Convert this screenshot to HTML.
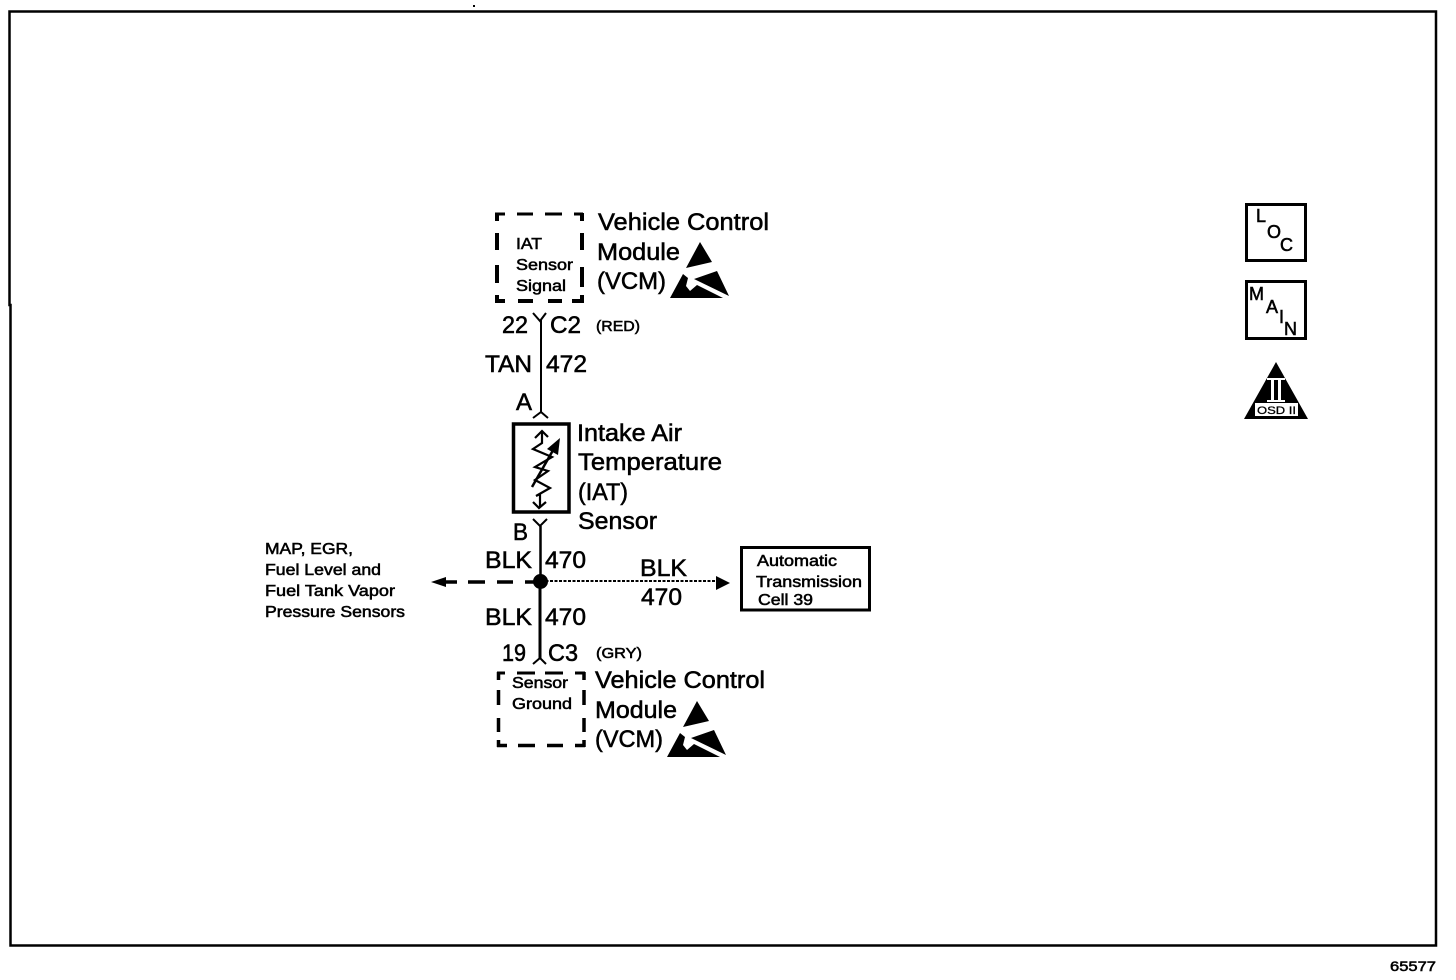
<!DOCTYPE html>
<html><head><meta charset="utf-8"><style>
html,body{margin:0;padding:0;background:#fff}
svg{display:block}
text{font-family:"Liberation Sans",sans-serif;fill:#000;stroke:#000;stroke-width:.55}
</style></head><body>
<svg width="1456" height="980" viewBox="0 0 1456 980" xmlns="http://www.w3.org/2000/svg">
<path d="M473 5h2v2h-2z"/>
<path d="M9.500 11.500H1436V945.500H10.500V305H9.500Z" fill="none" stroke="#000" stroke-width="2.500"/>

<!-- dashed boxes -->
<g fill="none" stroke="#000">
<path d="M495 214H505M517 214H533M545 214H562M574 214H583" stroke-width="3"/>
<path d="M495 301H505M518 301H533M548 301H562M572 301H583" stroke-width="4"/>
<path d="M497 213V221M497 233V250M497 265V283M497 295V303M582 213V221M582 233V250M582 267V287M582 295V303" stroke-width="4"/>
<path d="M497 673H505M517 673H535M545 673H563M575 673H585" stroke-width="3"/>
<path d="M497 745.500H507M518 745.500H535M547 745.500H563M575 745.500H585" stroke-width="3.500"/>
<path d="M498.500 672V680M498.500 690V705M498.500 718V732M498.500 740V747M584 672V680M584 690V705M584 718V732M584 740V747" stroke-width="3.500"/>
</g>
<g font-size="16">
<text x="516" y="249" textLength="26" lengthAdjust="spacingAndGlyphs">IAT</text>
<text x="516" y="270" textLength="57" lengthAdjust="spacingAndGlyphs">Sensor</text>
<text x="516" y="291" textLength="50" lengthAdjust="spacingAndGlyphs">Signal</text>
<text x="512" y="688" textLength="56" lengthAdjust="spacingAndGlyphs">Sensor</text>
<text x="512" y="709" textLength="60" lengthAdjust="spacingAndGlyphs">Ground</text>
</g>

<g font-size="24">
<text x="598" y="230" textLength="171" lengthAdjust="spacingAndGlyphs">Vehicle Control</text>
<text x="597" y="260" textLength="83" lengthAdjust="spacingAndGlyphs">Module</text>
<text x="597" y="289" textLength="69" lengthAdjust="spacingAndGlyphs">(VCM)</text>
<text x="502" y="333" textLength="26" lengthAdjust="spacingAndGlyphs">22</text>
<text x="550" y="333" textLength="31" lengthAdjust="spacingAndGlyphs">C2</text>
<text x="485" y="372" textLength="47" lengthAdjust="spacingAndGlyphs">TAN</text>
<text x="546" y="372" textLength="41" lengthAdjust="spacingAndGlyphs">472</text>
<text x="516" y="410" textLength="16" lengthAdjust="spacingAndGlyphs">A</text>
<text x="577" y="441" textLength="105" lengthAdjust="spacingAndGlyphs">Intake Air</text>
<text x="578" y="470" textLength="144" lengthAdjust="spacingAndGlyphs">Temperature</text>
<text x="578" y="500" textLength="50" lengthAdjust="spacingAndGlyphs">(IAT)</text>
<text x="578" y="529" textLength="79" lengthAdjust="spacingAndGlyphs">Sensor</text>
<text x="513" y="540" textLength="15" lengthAdjust="spacingAndGlyphs">B</text>
<text x="485" y="568" textLength="47" lengthAdjust="spacingAndGlyphs">BLK</text>
<text x="545" y="568" textLength="41" lengthAdjust="spacingAndGlyphs">470</text>
<text x="640" y="576" textLength="47" lengthAdjust="spacingAndGlyphs">BLK</text>
<text x="641" y="605" textLength="41" lengthAdjust="spacingAndGlyphs">470</text>
<text x="485" y="625" textLength="47" lengthAdjust="spacingAndGlyphs">BLK</text>
<text x="545" y="625" textLength="41" lengthAdjust="spacingAndGlyphs">470</text>
<text x="502" y="661" textLength="24" lengthAdjust="spacingAndGlyphs">19</text>
<text x="548" y="661" textLength="30" lengthAdjust="spacingAndGlyphs">C3</text>
<text x="595" y="688" textLength="170" lengthAdjust="spacingAndGlyphs">Vehicle Control</text>
<text x="595" y="718" textLength="82" lengthAdjust="spacingAndGlyphs">Module</text>
<text x="595" y="747" textLength="68" lengthAdjust="spacingAndGlyphs">(VCM)</text>
</g>
<g font-size="15">
<text x="596" y="331" textLength="44" lengthAdjust="spacingAndGlyphs">(RED)</text>
<text x="596" y="658" textLength="46" lengthAdjust="spacingAndGlyphs">(GRY)</text>
</g>
<g font-size="16">
<text x="265" y="554" textLength="88" lengthAdjust="spacingAndGlyphs">MAP, EGR,</text>
<text x="265" y="575" textLength="116" lengthAdjust="spacingAndGlyphs">Fuel Level and</text>
<text x="265" y="596" textLength="130" lengthAdjust="spacingAndGlyphs">Fuel Tank Vapor</text>
<text x="265" y="617" textLength="140" lengthAdjust="spacingAndGlyphs">Pressure Sensors</text>
<text x="757" y="566" textLength="80" lengthAdjust="spacingAndGlyphs">Automatic</text>
<text x="756" y="587" textLength="106" lengthAdjust="spacingAndGlyphs">Transmission</text>
<text x="758" y="605" textLength="55" lengthAdjust="spacingAndGlyphs">Cell 39</text>
</g>

<!-- wires -->
<g fill="none" stroke="#000">
<path d="M541 320V412" stroke-width="2"/>
<path d="M533 313L540 321L546 313" stroke-width="2"/>
<path d="M533 418L541 412L548 418" stroke-width="2"/>
<path d="M533 519L540 526L547 519" stroke-width="2"/>
<path d="M540.500 526V581" stroke-width="2.500"/>
<path d="M540 581V658" stroke-width="3"/>
<path d="M533 664L540 658L546 664" stroke-width="2"/>
<path d="M541 581H716" stroke-width="2" stroke-dasharray="3 1.500"/>
<path d="M445 582H457M468 582H485M497 582H513M525 582H541" stroke-width="3.500"/>
<rect x="513.500" y="424" width="55.500" height="88" stroke-width="3.500"/>
<rect x="741.500" y="547.500" width="128" height="62.500" stroke-width="3"/>
</g>
<circle cx="540.500" cy="581.500" r="7.500"/>
<path d="M431 582L446 577V587Z"/>
<path d="M716 576L730 583L716 590Z"/>

<!-- resistor symbol -->
<g fill="none" stroke="#000" stroke-width="2.200">
<path d="M535 438L542 431L548 437M542 431V443L533 449L552 457L535 467L548 471L535 480L550 488L536 496L540 494V507M533 502L539 508L546 502"/>
<path d="M532 487L556 445" stroke-width="2.500"/>
</g>
<path d="M560 438L558 455L547 449Z"/>

<!-- ESD symbols -->
<defs></defs>
<g>
<path d="M700 242L712 262L686 268Z"/>
<path d="M670 298L683 274L688 278L686 286L690 291L697 285L723 298Z"/>
<path d="M694 279L717 271L729 296Z"/>
<path d="M690 280h2v8h-2z" fill="#fff"/>
</g>
<g transform="translate(-3,459)">
<path d="M700 242L712 262L686 268Z"/>
<path d="M670 298L683 274L688 278L686 286L690 291L697 285L723 298Z"/>
<path d="M694 279L717 271L729 296Z"/>
<path d="M690 280h2v8h-2z" fill="#fff"/>
</g>

<!-- right icons -->
<g fill="none" stroke="#000" stroke-width="3">
<rect x="1246.500" y="204.500" width="59" height="56"/>
<rect x="1246.500" y="281.500" width="59" height="57"/>
</g>
<g font-size="18" style="stroke-width:.3">
<text x="1256" y="222">L</text>
<text x="1267" y="238">O</text>
<text x="1280" y="251">C</text>
<text x="1249" y="300">M</text>
<text x="1266" y="313">A</text>
<text x="1279" y="323">I</text>
<text x="1284" y="335">N</text>
</g>
<path d="M1276 362L1308 419H1244Z"/>
<rect x="1255" y="403" width="43" height="13" fill="#fff"/>
<path d="M1267 378h18v2h-4v20h4v2h-18v-2h4v-20h-4zM1274 380v20h4v-20z" fill="#fff" fill-rule="evenodd"/>
<text x="1257" y="414" font-size="11" textLength="39" lengthAdjust="spacingAndGlyphs" style="stroke-width:.3">OSD II</text>

<text x="1390" y="971" font-size="14" textLength="46" lengthAdjust="spacingAndGlyphs">65577</text>
</svg>
</body></html>
